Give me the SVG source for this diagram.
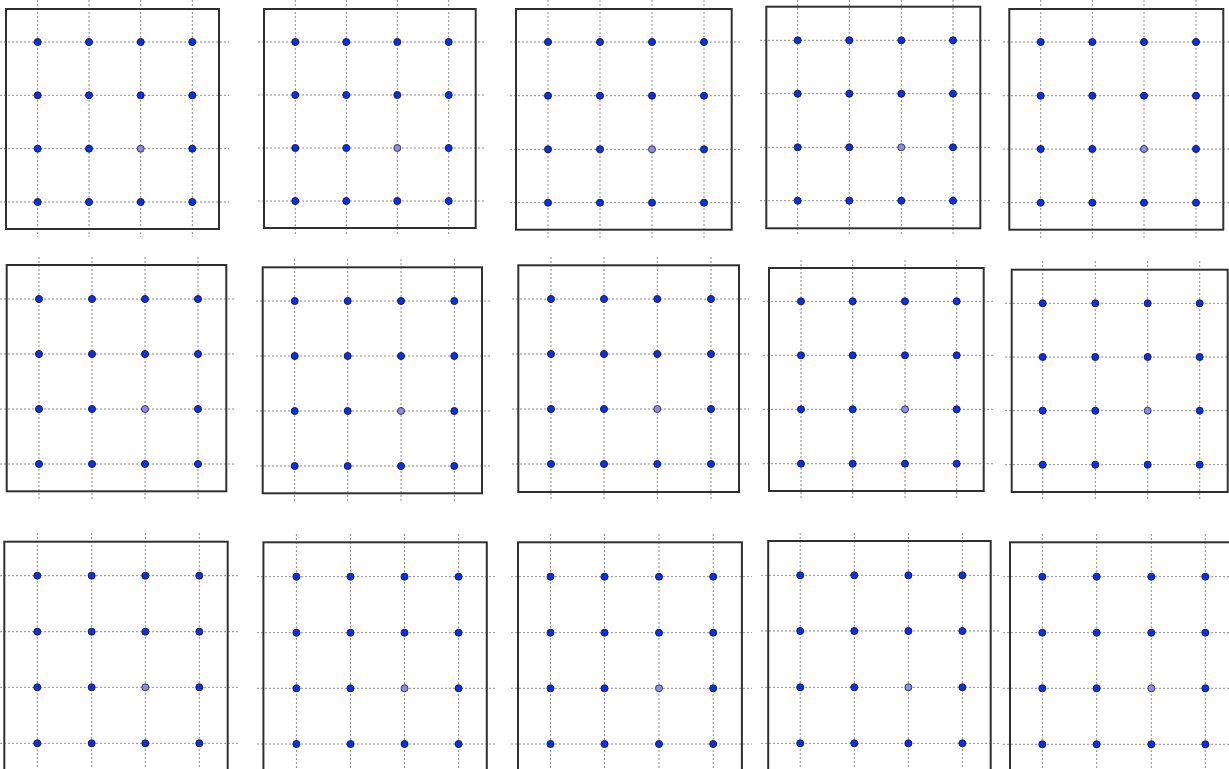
<svg xmlns="http://www.w3.org/2000/svg" width="1229" height="769" viewBox="0 0 1229 769">
<style>
.frame{fill:none;stroke:#303030;stroke-width:2}
.grid{stroke:#8a8a8a;stroke-width:1;stroke-dasharray:2,2;fill:none}
.dot{fill:#0a2ff0;stroke:#1a1a40;stroke-width:1}
.dotl{fill:#8c8ce8;stroke:#3a3a5a;stroke-width:1}
</style>
<rect width="1229" height="769" fill="#ffffff"/>
<g id="panel-1">
<path class="grid" d="M0 42H229M0 95.3H229M0 148.7H229M0 202H229M37.7 0V237M89 0V237M140.7 0V237M192.3 0V237"/>
<rect class="frame" x="6" y="9" width="213" height="220"/>
<circle class="dot" cx="37.7" cy="42" r="3.5"/><circle class="dot" cx="89" cy="42" r="3.5"/><circle class="dot" cx="140.7" cy="42" r="3.5"/><circle class="dot" cx="192.3" cy="42" r="3.5"/>
<circle class="dot" cx="37.7" cy="95.3" r="3.5"/><circle class="dot" cx="89" cy="95.3" r="3.5"/><circle class="dot" cx="140.7" cy="95.3" r="3.5"/><circle class="dot" cx="192.3" cy="95.3" r="3.5"/>
<circle class="dot" cx="37.7" cy="148.7" r="3.5"/><circle class="dot" cx="89" cy="148.7" r="3.5"/><circle class="dotl" cx="140.7" cy="148.7" r="3.5"/><circle class="dot" cx="192.3" cy="148.7" r="3.5"/>
<circle class="dot" cx="37.7" cy="202" r="3.5"/><circle class="dot" cx="89" cy="202" r="3.5"/><circle class="dot" cx="140.7" cy="202" r="3.5"/><circle class="dot" cx="192.3" cy="202" r="3.5"/>
</g>
<g id="panel-2">
<path class="grid" d="M258 42H486M258 95H486M258 148H486M258 201H486M295.3 0V236M346.3 0V236M397.3 0V236M448.7 0V236"/>
<rect class="frame" x="264" y="9" width="211.7" height="219"/>
<circle class="dot" cx="295.3" cy="42" r="3.5"/><circle class="dot" cx="346.3" cy="42" r="3.5"/><circle class="dot" cx="397.3" cy="42" r="3.5"/><circle class="dot" cx="448.7" cy="42" r="3.5"/>
<circle class="dot" cx="295.3" cy="95" r="3.5"/><circle class="dot" cx="346.3" cy="95" r="3.5"/><circle class="dot" cx="397.3" cy="95" r="3.5"/><circle class="dot" cx="448.7" cy="95" r="3.5"/>
<circle class="dot" cx="295.3" cy="148" r="3.5"/><circle class="dot" cx="346.3" cy="148" r="3.5"/><circle class="dotl" cx="397.3" cy="148" r="3.5"/><circle class="dot" cx="448.7" cy="148" r="3.5"/>
<circle class="dot" cx="295.3" cy="201" r="3.5"/><circle class="dot" cx="346.3" cy="201" r="3.5"/><circle class="dot" cx="397.3" cy="201" r="3.5"/><circle class="dot" cx="448.7" cy="201" r="3.5"/>
</g>
<g id="panel-3">
<path class="grid" d="M510 42H741M510 95.7H741M510 149.3H741M510 202.7H741M548 0V238M600 0V238M652 0V238M704 0V238"/>
<rect class="frame" x="516" y="9" width="215.7" height="220.7"/>
<circle class="dot" cx="548" cy="42" r="3.5"/><circle class="dot" cx="600" cy="42" r="3.5"/><circle class="dot" cx="652" cy="42" r="3.5"/><circle class="dot" cx="704" cy="42" r="3.5"/>
<circle class="dot" cx="548" cy="95.7" r="3.5"/><circle class="dot" cx="600" cy="95.7" r="3.5"/><circle class="dot" cx="652" cy="95.7" r="3.5"/><circle class="dot" cx="704" cy="95.7" r="3.5"/>
<circle class="dot" cx="548" cy="149.3" r="3.5"/><circle class="dot" cx="600" cy="149.3" r="3.5"/><circle class="dotl" cx="652" cy="149.3" r="3.5"/><circle class="dot" cx="704" cy="149.3" r="3.5"/>
<circle class="dot" cx="548" cy="202.7" r="3.5"/><circle class="dot" cx="600" cy="202.7" r="3.5"/><circle class="dot" cx="652" cy="202.7" r="3.5"/><circle class="dot" cx="704" cy="202.7" r="3.5"/>
</g>
<g id="panel-4">
<path class="grid" d="M760 40.3H991M760 93.7H991M760 147.3H991M760 200.7H991M797.7 0V236M849.3 0V236M901.3 0V236M953 0V236"/>
<rect class="frame" x="766.3" y="6.7" width="214" height="221.6"/>
<circle class="dot" cx="797.7" cy="40.3" r="3.5"/><circle class="dot" cx="849.3" cy="40.3" r="3.5"/><circle class="dot" cx="901.3" cy="40.3" r="3.5"/><circle class="dot" cx="953" cy="40.3" r="3.5"/>
<circle class="dot" cx="797.7" cy="93.7" r="3.5"/><circle class="dot" cx="849.3" cy="93.7" r="3.5"/><circle class="dot" cx="901.3" cy="93.7" r="3.5"/><circle class="dot" cx="953" cy="93.7" r="3.5"/>
<circle class="dot" cx="797.7" cy="147.3" r="3.5"/><circle class="dot" cx="849.3" cy="147.3" r="3.5"/><circle class="dotl" cx="901.3" cy="147.3" r="3.5"/><circle class="dot" cx="953" cy="147.3" r="3.5"/>
<circle class="dot" cx="797.7" cy="200.7" r="3.5"/><circle class="dot" cx="849.3" cy="200.7" r="3.5"/><circle class="dot" cx="901.3" cy="200.7" r="3.5"/><circle class="dot" cx="953" cy="200.7" r="3.5"/>
</g>
<g id="panel-5">
<path class="grid" d="M1003 42H1229M1003 95.7H1229M1003 149H1229M1003 202.7H1229M1040.7 0V238M1092.3 0V238M1144 0V238M1196 0V238"/>
<rect class="frame" x="1009.3" y="9" width="214" height="220.7"/>
<circle class="dot" cx="1040.7" cy="42" r="3.5"/><circle class="dot" cx="1092.3" cy="42" r="3.5"/><circle class="dot" cx="1144" cy="42" r="3.5"/><circle class="dot" cx="1196" cy="42" r="3.5"/>
<circle class="dot" cx="1040.7" cy="95.7" r="3.5"/><circle class="dot" cx="1092.3" cy="95.7" r="3.5"/><circle class="dot" cx="1144" cy="95.7" r="3.5"/><circle class="dot" cx="1196" cy="95.7" r="3.5"/>
<circle class="dot" cx="1040.7" cy="149" r="3.5"/><circle class="dot" cx="1092.3" cy="149" r="3.5"/><circle class="dotl" cx="1144" cy="149" r="3.5"/><circle class="dot" cx="1196" cy="149" r="3.5"/>
<circle class="dot" cx="1040.7" cy="202.7" r="3.5"/><circle class="dot" cx="1092.3" cy="202.7" r="3.5"/><circle class="dot" cx="1144" cy="202.7" r="3.5"/><circle class="dot" cx="1196" cy="202.7" r="3.5"/>
</g>
<g id="panel-6">
<path class="grid" d="M0 299H236M0 354H236M0 409H236M0 464H236M39 257V500M92 257V500M145 257V500M198 257V500"/>
<rect class="frame" x="6.7" y="265" width="219.6" height="226.3"/>
<circle class="dot" cx="39" cy="299" r="3.5"/><circle class="dot" cx="92" cy="299" r="3.5"/><circle class="dot" cx="145" cy="299" r="3.5"/><circle class="dot" cx="198" cy="299" r="3.5"/>
<circle class="dot" cx="39" cy="354" r="3.5"/><circle class="dot" cx="92" cy="354" r="3.5"/><circle class="dot" cx="145" cy="354" r="3.5"/><circle class="dot" cx="198" cy="354" r="3.5"/>
<circle class="dot" cx="39" cy="409" r="3.5"/><circle class="dot" cx="92" cy="409" r="3.5"/><circle class="dotl" cx="145" cy="409" r="3.5"/><circle class="dot" cx="198" cy="409" r="3.5"/>
<circle class="dot" cx="39" cy="464" r="3.5"/><circle class="dot" cx="92" cy="464" r="3.5"/><circle class="dot" cx="145" cy="464" r="3.5"/><circle class="dot" cx="198" cy="464" r="3.5"/>
</g>
<g id="panel-7">
<path class="grid" d="M256 301H492M256 356H492M256 411H492M256 466H492M294.7 259V502M347.7 259V502M401 259V502M454.3 259V502"/>
<rect class="frame" x="262.7" y="267.3" width="219.3" height="226"/>
<circle class="dot" cx="294.7" cy="301" r="3.5"/><circle class="dot" cx="347.7" cy="301" r="3.5"/><circle class="dot" cx="401" cy="301" r="3.5"/><circle class="dot" cx="454.3" cy="301" r="3.5"/>
<circle class="dot" cx="294.7" cy="356" r="3.5"/><circle class="dot" cx="347.7" cy="356" r="3.5"/><circle class="dot" cx="401" cy="356" r="3.5"/><circle class="dot" cx="454.3" cy="356" r="3.5"/>
<circle class="dot" cx="294.7" cy="411" r="3.5"/><circle class="dot" cx="347.7" cy="411" r="3.5"/><circle class="dotl" cx="401" cy="411" r="3.5"/><circle class="dot" cx="454.3" cy="411" r="3.5"/>
<circle class="dot" cx="294.7" cy="466" r="3.5"/><circle class="dot" cx="347.7" cy="466" r="3.5"/><circle class="dot" cx="401" cy="466" r="3.5"/><circle class="dot" cx="454.3" cy="466" r="3.5"/>
</g>
<g id="panel-8">
<path class="grid" d="M512 299H749M512 354H749M512 409H749M512 464H749M551 257V500M604 257V500M657.3 257V500M711 257V500"/>
<rect class="frame" x="518.3" y="265.3" width="220.7" height="226.7"/>
<circle class="dot" cx="551" cy="299" r="3.5"/><circle class="dot" cx="604" cy="299" r="3.5"/><circle class="dot" cx="657.3" cy="299" r="3.5"/><circle class="dot" cx="711" cy="299" r="3.5"/>
<circle class="dot" cx="551" cy="354" r="3.5"/><circle class="dot" cx="604" cy="354" r="3.5"/><circle class="dot" cx="657.3" cy="354" r="3.5"/><circle class="dot" cx="711" cy="354" r="3.5"/>
<circle class="dot" cx="551" cy="409" r="3.5"/><circle class="dot" cx="604" cy="409" r="3.5"/><circle class="dotl" cx="657.3" cy="409" r="3.5"/><circle class="dot" cx="711" cy="409" r="3.5"/>
<circle class="dot" cx="551" cy="464" r="3.5"/><circle class="dot" cx="604" cy="464" r="3.5"/><circle class="dot" cx="657.3" cy="464" r="3.5"/><circle class="dot" cx="711" cy="464" r="3.5"/>
</g>
<g id="panel-9">
<path class="grid" d="M763 301.3H994M763 355.3H994M763 409.3H994M763 463.7H994M801 260V499M852.7 260V499M905 260V499M956.7 260V499"/>
<rect class="frame" x="769" y="268" width="214.7" height="223"/>
<circle class="dot" cx="801" cy="301.3" r="3.5"/><circle class="dot" cx="852.7" cy="301.3" r="3.5"/><circle class="dot" cx="905" cy="301.3" r="3.5"/><circle class="dot" cx="956.7" cy="301.3" r="3.5"/>
<circle class="dot" cx="801" cy="355.3" r="3.5"/><circle class="dot" cx="852.7" cy="355.3" r="3.5"/><circle class="dot" cx="905" cy="355.3" r="3.5"/><circle class="dot" cx="956.7" cy="355.3" r="3.5"/>
<circle class="dot" cx="801" cy="409.3" r="3.5"/><circle class="dot" cx="852.7" cy="409.3" r="3.5"/><circle class="dotl" cx="905" cy="409.3" r="3.5"/><circle class="dot" cx="956.7" cy="409.3" r="3.5"/>
<circle class="dot" cx="801" cy="463.7" r="3.5"/><circle class="dot" cx="852.7" cy="463.7" r="3.5"/><circle class="dot" cx="905" cy="463.7" r="3.5"/><circle class="dot" cx="956.7" cy="463.7" r="3.5"/>
</g>
<g id="panel-10">
<path class="grid" d="M1005 303.3H1229M1005 357H1229M1005 410.7H1229M1005 464.7H1229M1042.7 261V500M1095.3 261V500M1147.7 261V500M1199.7 261V500"/>
<rect class="frame" x="1011.7" y="269.7" width="216" height="222.3"/>
<circle class="dot" cx="1042.7" cy="303.3" r="3.5"/><circle class="dot" cx="1095.3" cy="303.3" r="3.5"/><circle class="dot" cx="1147.7" cy="303.3" r="3.5"/><circle class="dot" cx="1199.7" cy="303.3" r="3.5"/>
<circle class="dot" cx="1042.7" cy="357" r="3.5"/><circle class="dot" cx="1095.3" cy="357" r="3.5"/><circle class="dot" cx="1147.7" cy="357" r="3.5"/><circle class="dot" cx="1199.7" cy="357" r="3.5"/>
<circle class="dot" cx="1042.7" cy="410.7" r="3.5"/><circle class="dot" cx="1095.3" cy="410.7" r="3.5"/><circle class="dotl" cx="1147.7" cy="410.7" r="3.5"/><circle class="dot" cx="1199.7" cy="410.7" r="3.5"/>
<circle class="dot" cx="1042.7" cy="464.7" r="3.5"/><circle class="dot" cx="1095.3" cy="464.7" r="3.5"/><circle class="dot" cx="1147.7" cy="464.7" r="3.5"/><circle class="dot" cx="1199.7" cy="464.7" r="3.5"/>
</g>
<g id="panel-11">
<path class="grid" d="M0 575.7H238M0 631.7H238M0 687.3H238M0 743.3H238M37.3 533V769M91.7 533V769M145.3 533V769M199.3 533V769"/>
<rect class="frame" x="4.3" y="541.7" width="223.4" height="240"/>
<circle class="dot" cx="37.3" cy="575.7" r="3.5"/><circle class="dot" cx="91.7" cy="575.7" r="3.5"/><circle class="dot" cx="145.3" cy="575.7" r="3.5"/><circle class="dot" cx="199.3" cy="575.7" r="3.5"/>
<circle class="dot" cx="37.3" cy="631.7" r="3.5"/><circle class="dot" cx="91.7" cy="631.7" r="3.5"/><circle class="dot" cx="145.3" cy="631.7" r="3.5"/><circle class="dot" cx="199.3" cy="631.7" r="3.5"/>
<circle class="dot" cx="37.3" cy="687.3" r="3.5"/><circle class="dot" cx="91.7" cy="687.3" r="3.5"/><circle class="dotl" cx="145.3" cy="687.3" r="3.5"/><circle class="dot" cx="199.3" cy="687.3" r="3.5"/>
<circle class="dot" cx="37.3" cy="743.3" r="3.5"/><circle class="dot" cx="91.7" cy="743.3" r="3.5"/><circle class="dot" cx="145.3" cy="743.3" r="3.5"/><circle class="dot" cx="199.3" cy="743.3" r="3.5"/>
</g>
<g id="panel-12">
<path class="grid" d="M257 576.7H497M257 632.7H497M257 688.3H497M257 744H497M296.4 534V769M350.5 534V769M404.5 534V769M458.6 534V769"/>
<rect class="frame" x="263.4" y="542.3" width="223.4" height="240"/>
<circle class="dot" cx="296.4" cy="576.7" r="3.5"/><circle class="dot" cx="350.5" cy="576.7" r="3.5"/><circle class="dot" cx="404.5" cy="576.7" r="3.5"/><circle class="dot" cx="458.6" cy="576.7" r="3.5"/>
<circle class="dot" cx="296.4" cy="632.7" r="3.5"/><circle class="dot" cx="350.5" cy="632.7" r="3.5"/><circle class="dot" cx="404.5" cy="632.7" r="3.5"/><circle class="dot" cx="458.6" cy="632.7" r="3.5"/>
<circle class="dot" cx="296.4" cy="688.3" r="3.5"/><circle class="dot" cx="350.5" cy="688.3" r="3.5"/><circle class="dotl" cx="404.5" cy="688.3" r="3.5"/><circle class="dot" cx="458.6" cy="688.3" r="3.5"/>
<circle class="dot" cx="296.4" cy="744" r="3.5"/><circle class="dot" cx="350.5" cy="744" r="3.5"/><circle class="dot" cx="404.5" cy="744" r="3.5"/><circle class="dot" cx="458.6" cy="744" r="3.5"/>
</g>
<g id="panel-13">
<path class="grid" d="M511 576.7H752M511 632.7H752M511 688.3H752M511 744H752M550.5 534V769M604.5 534V769M659 534V769M713.2 534V769"/>
<rect class="frame" x="518" y="542.3" width="223.9" height="240"/>
<circle class="dot" cx="550.5" cy="576.7" r="3.5"/><circle class="dot" cx="604.5" cy="576.7" r="3.5"/><circle class="dot" cx="659" cy="576.7" r="3.5"/><circle class="dot" cx="713.2" cy="576.7" r="3.5"/>
<circle class="dot" cx="550.5" cy="632.7" r="3.5"/><circle class="dot" cx="604.5" cy="632.7" r="3.5"/><circle class="dot" cx="659" cy="632.7" r="3.5"/><circle class="dot" cx="713.2" cy="632.7" r="3.5"/>
<circle class="dot" cx="550.5" cy="688.3" r="3.5"/><circle class="dot" cx="604.5" cy="688.3" r="3.5"/><circle class="dotl" cx="659" cy="688.3" r="3.5"/><circle class="dot" cx="713.2" cy="688.3" r="3.5"/>
<circle class="dot" cx="550.5" cy="744" r="3.5"/><circle class="dot" cx="604.5" cy="744" r="3.5"/><circle class="dot" cx="659" cy="744" r="3.5"/><circle class="dot" cx="713.2" cy="744" r="3.5"/>
</g>
<g id="panel-14">
<path class="grid" d="M761 575.3H1000M761 631H1000M761 687.3H1000M761 743.3H1000M800.2 533V769M854.3 533V769M908.4 533V769M962.4 533V769"/>
<rect class="frame" x="768.2" y="541" width="222.5" height="240"/>
<circle class="dot" cx="800.2" cy="575.3" r="3.5"/><circle class="dot" cx="854.3" cy="575.3" r="3.5"/><circle class="dot" cx="908.4" cy="575.3" r="3.5"/><circle class="dot" cx="962.4" cy="575.3" r="3.5"/>
<circle class="dot" cx="800.2" cy="631" r="3.5"/><circle class="dot" cx="854.3" cy="631" r="3.5"/><circle class="dot" cx="908.4" cy="631" r="3.5"/><circle class="dot" cx="962.4" cy="631" r="3.5"/>
<circle class="dot" cx="800.2" cy="687.3" r="3.5"/><circle class="dot" cx="854.3" cy="687.3" r="3.5"/><circle class="dotl" cx="908.4" cy="687.3" r="3.5"/><circle class="dot" cx="962.4" cy="687.3" r="3.5"/>
<circle class="dot" cx="800.2" cy="743.3" r="3.5"/><circle class="dot" cx="854.3" cy="743.3" r="3.5"/><circle class="dot" cx="908.4" cy="743.3" r="3.5"/><circle class="dot" cx="962.4" cy="743.3" r="3.5"/>
</g>
<g id="panel-15">
<path class="grid" d="M1003 576.7H1229M1003 632.7H1229M1003 688.3H1229M1003 744.3H1229M1042.3 534V769M1096.7 534V769M1151.3 534V769M1205.3 534V769"/>
<rect class="frame" x="1010" y="542.3" width="240" height="240"/>
<circle class="dot" cx="1042.3" cy="576.7" r="3.5"/><circle class="dot" cx="1096.7" cy="576.7" r="3.5"/><circle class="dot" cx="1151.3" cy="576.7" r="3.5"/><circle class="dot" cx="1205.3" cy="576.7" r="3.5"/>
<circle class="dot" cx="1042.3" cy="632.7" r="3.5"/><circle class="dot" cx="1096.7" cy="632.7" r="3.5"/><circle class="dot" cx="1151.3" cy="632.7" r="3.5"/><circle class="dot" cx="1205.3" cy="632.7" r="3.5"/>
<circle class="dot" cx="1042.3" cy="688.3" r="3.5"/><circle class="dot" cx="1096.7" cy="688.3" r="3.5"/><circle class="dotl" cx="1151.3" cy="688.3" r="3.5"/><circle class="dot" cx="1205.3" cy="688.3" r="3.5"/>
<circle class="dot" cx="1042.3" cy="744.3" r="3.5"/><circle class="dot" cx="1096.7" cy="744.3" r="3.5"/><circle class="dot" cx="1151.3" cy="744.3" r="3.5"/><circle class="dot" cx="1205.3" cy="744.3" r="3.5"/>
</g>
<g id="connectors"></g>
</svg>
